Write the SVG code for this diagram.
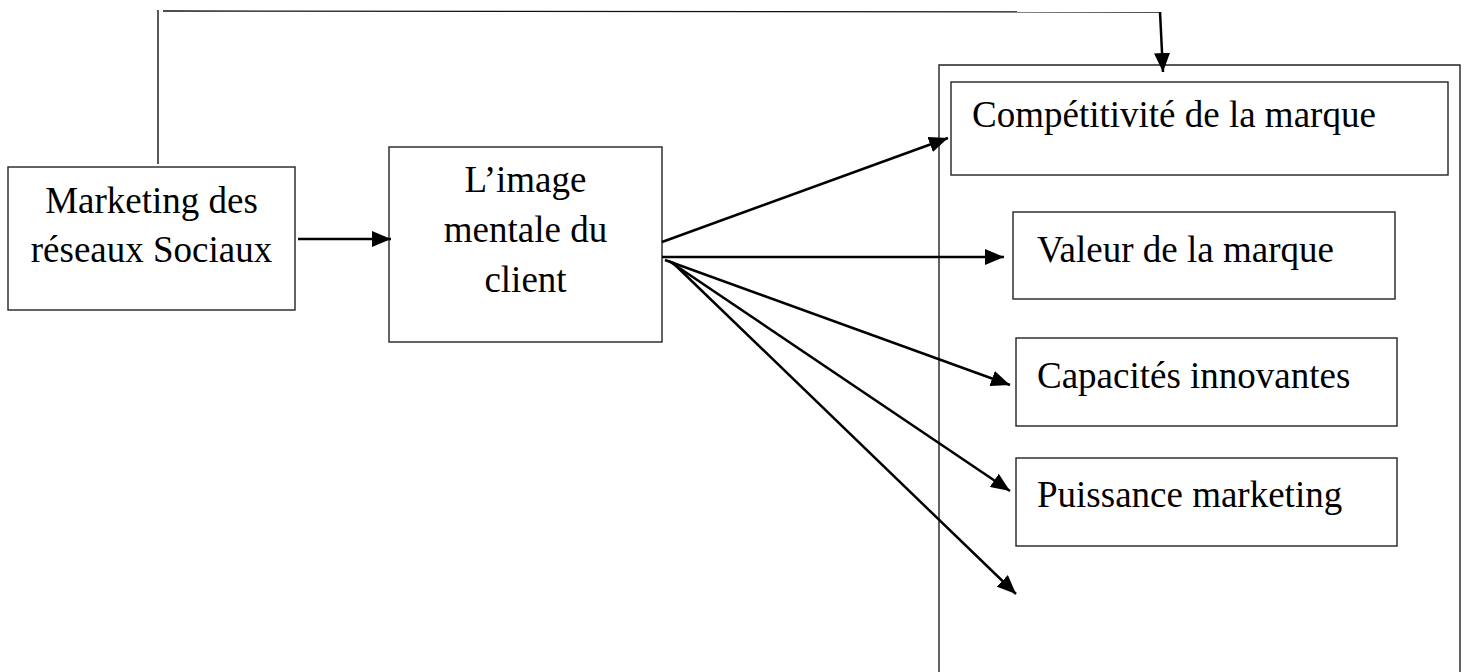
<svg xmlns="http://www.w3.org/2000/svg" width="1467" height="672" viewBox="0 0 1467 672">
  <style>
    .box { fill: #ffffff; stroke: #222222; stroke-width: 1.4; }
    .frame { fill: none; stroke: #222222; stroke-width: 1.4; }
    .lbl { font-family: "Liberation Serif", "Times New Roman", serif; font-size: 37px; fill: #000000; }
    .mid { text-anchor: middle; }
    .thin { fill: none; stroke: #111111; stroke-width: 1.4; }
    .arrow { fill: none; stroke: #000000; stroke-width: 2.5; marker-end: url(#head); }
  </style>
  <defs>
    <marker id="head" markerUnits="userSpaceOnUse" markerWidth="19" markerHeight="16" refX="19" refY="8" orient="auto">
      <path d="M0,0 L19,8 L0,16 z" fill="#000000"/>
    </marker>
  </defs>
  <rect width="1467" height="672" fill="#ffffff"/>

  <!-- outer frame grouping the brand dimensions (open at the bottom) -->
  <g id="frame-dimensions">
    <path class="frame" d="M939,680 L939,65 L1460,65 L1460,680"/>
  </g>

  <g id="node-marketing">
    <rect class="box" x="8" y="167" width="287" height="143"/>
    <text class="lbl mid" x="151.5" y="213">Marketing des</text>
    <text class="lbl mid" x="151.5" y="262">réseaux Sociaux</text>
  </g>

  <g id="node-image">
    <rect class="box" x="389" y="147" width="273" height="195"/>
    <text class="lbl mid" x="525.5" y="192">L’image</text>
    <text class="lbl mid" x="525.5" y="242">mentale du</text>
    <text class="lbl mid" x="525.5" y="292">client</text>
  </g>

  <g id="node-competitivite">
    <rect class="box" x="951" y="82" width="497" height="93"/>
    <text class="lbl" x="972" y="127">Compétitivité de la marque</text>
  </g>

  <g id="node-valeur">
    <rect class="box" x="1013" y="212" width="382" height="87"/>
    <text class="lbl" x="1037" y="262">Valeur de la marque</text>
  </g>

  <g id="node-capacites">
    <rect class="box" x="1016" y="338" width="381" height="88"/>
    <text class="lbl" x="1037" y="388">Capacités innovantes</text>
  </g>

  <g id="node-puissance">
    <rect class="box" x="1016" y="458" width="381" height="88"/>
    <text class="lbl" x="1037" y="507">Puissance marketing</text>
  </g>

  <g id="connectors">
    <!-- direct link from social media marketing to brand competitiveness -->
    <line class="thin" x1="158" y1="164" x2="158" y2="10"/>
    <line class="thin" x1="163" y1="11" x2="1160" y2="12"/>
    <line class="arrow" x1="1160" y1="12" x2="1163" y2="72"/>
    <!-- marketing to mental image -->
    <line class="arrow" x1="298" y1="239" x2="391" y2="239"/>
    <!-- mental image to each dimension -->
    <line class="arrow" x1="662" y1="242" x2="948" y2="138"/>
    <line class="arrow" x1="662" y1="257" x2="1004" y2="257"/>
    <line class="arrow" x1="665" y1="260" x2="1010" y2="385"/>
    <line class="arrow" x1="669" y1="261" x2="1010" y2="491"/>
    <line class="arrow" x1="672" y1="262" x2="1016" y2="594"/>
  </g>
</svg>
